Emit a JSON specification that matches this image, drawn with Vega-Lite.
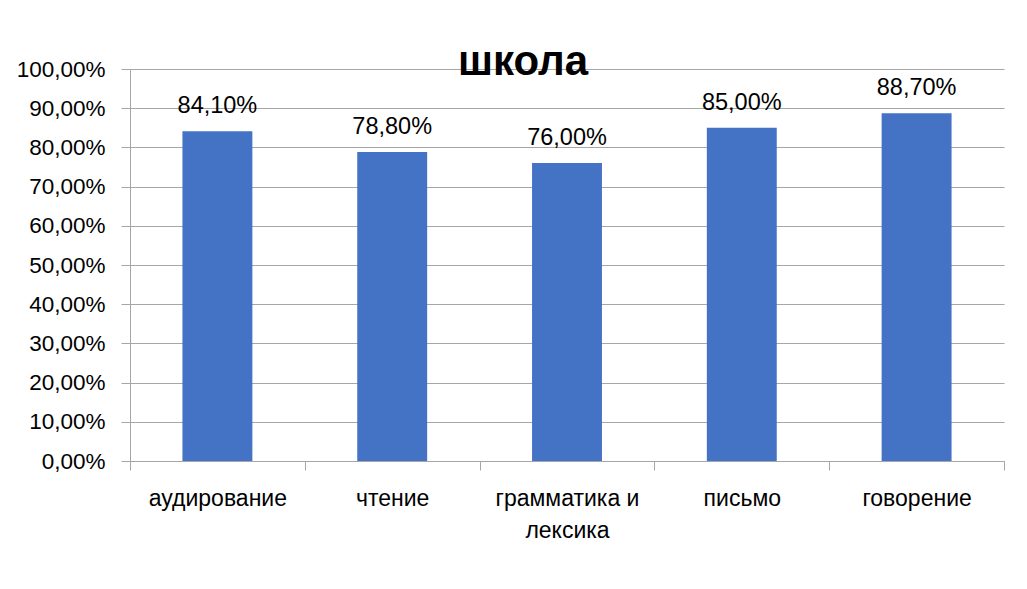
{
  "$schema": "https://vega.github.io/schema/vega-lite/v6.json",
  "width": 874,
  "height": 392,
  "autosize": {"type": "none"},
  "padding": {"left": 130, "top": 69, "right": 23, "bottom": 128},
  "background": "white",
  "title": {"text": "школа", "font": "Liberation Sans", "fontSize": 42, "fontWeight": "bold", "color": "black", "anchor": "middle", "dx": -44, "dy": 42, "baseline": "alphabetic", "offset": -17},
  "config": {
    "locale": {"number": {"decimal": ",", "thousands": " ", "grouping": [3], "currency": ["", " ₽"]}},
    "view": {"stroke": null},
    "font": "Liberation Sans"
  },
  "data": {"values": [
    {"skill": "аудирование", "value": 0.841},
    {"skill": "чтение", "value": 0.788},
    {"skill": "грамматика и лексика", "value": 0.76},
    {"skill": "письмо", "value": 0.85},
    {"skill": "говорение", "value": 0.887}
  ]},
  "encoding": {
    "x": {"field": "skill", "type": "nominal", "sort": null,
      "scale": {"paddingInner": 0, "paddingOuter": 0},
      "axis": {"title": null, "labelAngle": 0, "labelFont": "Liberation Sans", "labelFontSize": 23, "labelColor": "black",
        "labelBaseline": "alphabetic", "labelPadding": 35, "labelLineHeight": 32,
        "labelExpr": "datum.label == 'грамматика и лексика' ? ['грамматика и', 'лексика'] : datum.label",
        "tickBand": "extent", "tickSize": 9, "tickColor": "#a6a6a6", "domainColor": "#a6a6a6", "grid": false, "labelLimit": 300}},
    "y": {"field": "value", "type": "quantitative",
      "scale": {"domain": [0, 1], "nice": false},
      "axis": {"title": null, "values": [0, 0.1, 0.2, 0.3, 0.4, 0.5, 0.6, 0.7, 0.8, 0.9, 1], "format": ".2%",
        "labelFont": "Liberation Sans", "labelFontSize": 22.5, "labelColor": "black", "labelPadding": 16,
        "tickSize": 9, "tickColor": "#a6a6a6", "domainColor": "#a6a6a6", "gridColor": "#a6a6a6", "gridWidth": 1}}
  },
  "layer": [
    {"mark": {"type": "bar", "color": "#4472C4", "width": {"band": 0.4}}},
    {"mark": {"type": "text", "baseline": "alphabetic", "dy": -18, "fontSize": 23.5, "font": "Liberation Sans", "color": "black"},
      "encoding": {"text": {"field": "value", "type": "quantitative", "format": ".2%"}}}
  ]
}
